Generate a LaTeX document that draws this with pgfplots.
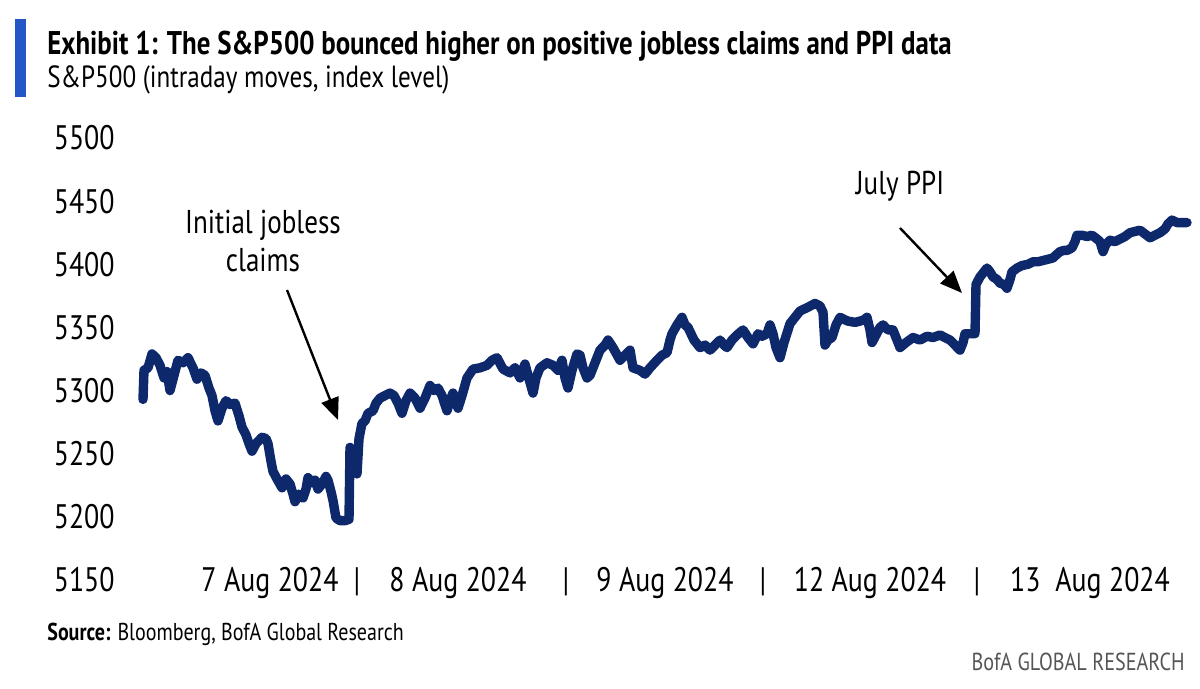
\documentclass[border=0pt]{standalone}
\usepackage{fontspec}
\setmainfont{PT Sans}[FakeStretch=0.82]
\usepackage{pgfplots}
\pgfplotsset{compat=1.18}
\usetikzlibrary{arrows.meta}
\definecolor{navy}{RGB}{14,40,108}
\definecolor{bofablue}{RGB}{36,87,197}
\definecolor{grayt}{RGB}{85,85,85}
\begin{document}
\begin{tikzpicture}[x=0.5pt,y=0.5pt]
\useasboundingbox (0,0) rectangle (1200,689);
\fill[bofablue] (15,670) rectangle (26,592);
\node[anchor=base west,inner sep=0pt,font=\bfseries\fontsize{16.4}{18}\selectfont] at (47,634) {Exhibit 1: The S\&P500 bounced higher on positive jobless claims and PPI data};
\node[anchor=base west,inner sep=0pt,font=\fontsize{15.3}{17}\selectfont] at (47,601) {S\&P500 (intraday moves, index level)};
\begin{axis}[
  at={(71.5pt,54.5pt)}, anchor=south west,
  width=522pt, height=221pt, scale only axis,
  xmin=143, xmax=1187, ymin=5150, ymax=5500,
  enlargelimits=false, clip=false,
  axis line style={draw=none}, tick style={draw=none},
  ytick={5150,5200,5250,5300,5350,5400,5450,5500},
  yticklabels={5150,5200,5250,5300,5350,5400,5450,5500},
  xtick={270,357,458,566,665,763,870,977,1090},
  xticklabels={7 Aug 2024,|,8 Aug 2024,|,9 Aug 2024,|,12 Aug 2024,|,13\ \ Aug 2024},
  ticklabel style={font=\fontsize{17}{20}\selectfont, inner sep=0pt},
  yticklabel style={anchor=base east, xshift=-14pt, yshift=-6pt},
  xticklabel style={anchor=base, yshift=-6pt},
]
\addplot[navy, line width=4.7pt, line join=round, line cap=round] coordinates {
(143,5293)(144,5316)(148,5318)(152,5329)(156,5326)(160,5320)(164,5310)(167,5315)(170,5300)(174,5312)
(178,5324)(183,5322)(188,5326)(193,5318)(197,5309)(201,5314)(205,5312)(209,5302)(212,5296)(215,5284)
(218,5276)(222,5286)(226,5292)(230,5289)(235,5290)(239,5280)(242,5271)(246,5265)(249,5258)(252,5252)
(256,5258)(262,5263)(266,5262)(268,5258)(271,5244)(273,5236)(277,5230)(282,5223)(286,5230)(290,5226)
(293,5218)(295,5212)(299,5218)(303,5215)(306,5222)(308,5231)(312,5227)(315,5229)(318,5222)(322,5226)
(326,5232)(328,5229)(331,5220)(333,5213)(336,5199)(340,5197)(345,5197)(349,5198)(350,5255)(353,5250)
(356,5245)(357,5234)(359,5262)(362,5274)(365,5276)(368,5282)(373,5284)(376,5290)(380,5294)(385,5296)
(390,5298)(394,5296)(398,5290)(402,5282)(406,5292)(410,5298)(415,5294)(420,5286)(425,5294)(430,5304)
(434,5300)(438,5302)(442,5296)(447,5284)(450,5292)(453,5298)(458,5286)(462,5296)(467,5310)(473,5317)
(480,5318)(487,5320)(492,5324)(497,5326)(503,5317)(510,5314)(515,5318)(520,5310)(525,5321)(528,5312)
(533,5298)(536,5310)(540,5318)(547,5322)(553,5320)(558,5316)(562,5324)(565,5310)(568,5302)(572,5316)
(577,5329)(580,5328)(583,5318)(587,5310)(590,5312)(595,5322)(600,5332)(605,5336)(608,5340)(613,5334)
(620,5324)(625,5328)(630,5332)(633,5318)(640,5316)(645,5313)(650,5318)(657,5324)(662,5328)(667,5330)
(670,5340)(672,5345)(677,5352)(682,5358)(685,5352)(688,5350)(694,5340)(700,5334)(705,5336)(710,5332)
(715,5336)(720,5340)(724,5336)(727,5334)(732,5340)(737,5344)(743,5348)(748,5342)(753,5337)(758,5345)
(762,5343)(767,5345)(770,5352)(773,5345)(776,5334)(780,5326)(784,5338)(788,5348)(790,5353)(795,5358)
(800,5363)(808,5366)(815,5369)(820,5367)(823,5362)(825,5336)(828,5340)(832,5342)(836,5352)(840,5358)
(845,5356)(848,5355)(855,5354)(860,5355)(864,5356)(867,5358)(870,5348)(872,5338)(876,5344)(880,5350)
(883,5352)(888,5348)(893,5348)(897,5340)(900,5334)(906,5338)(913,5342)(920,5340)(927,5343)(933,5342)
(940,5344)(945,5342)(950,5340)(955,5336)(960,5332)(963,5338)(965,5345)(970,5345)(975,5345)(976,5384)
(980,5390)(984,5394)(987,5397)(990,5394)(993,5390)(997,5388)(1000,5385)(1004,5384)(1007,5381)(1010,5388)
(1012,5394)(1017,5397)(1022,5399)(1028,5400)(1033,5402)(1038,5402)(1043,5403)(1048,5404)(1053,5405)(1057,5408)
(1060,5410)(1064,5411)(1067,5411)(1072,5413)(1075,5418)(1077,5423)(1082,5423)(1087,5422)(1092,5423)(1097,5420)
(1100,5418)(1103,5410)(1106,5416)(1110,5419)(1115,5418)(1120,5420)(1125,5422)(1130,5425)(1135,5426)(1140,5427)
(1145,5424)(1150,5421)(1155,5423)(1160,5425)(1165,5428)(1168,5432)(1172,5435)(1177,5433)(1182,5433)(1187,5433)
};
\end{axis}
\node[anchor=base,inner sep=0pt,font=\fontsize{16.5}{20}\selectfont] at (263,455) {Initial jobless};
\node[anchor=base,inner sep=0pt,font=\fontsize{16.5}{20}\selectfont] at (263,417) {claims};
\node[anchor=base,inner sep=0pt,font=\fontsize{16.5}{20}\selectfont] at (900,494) {July PPI};
\draw[line width=1.2pt,-{Triangle[length=11pt,width=9pt]}] (287,399) -- (338,269);
\draw[line width=1.2pt,-{Triangle[length=11pt,width=9pt]}] (900,461) -- (962,396);
\node[anchor=base west,inner sep=0pt,font=\fontsize{12.2}{14}\selectfont] at (47,48) {\textbf{Source:} Bloomberg, BofA Global Research};
\node[anchor=base east,inner sep=0pt,font=\fontsize{12.3}{14}\selectfont,text=grayt] at (1185,18) {BofA GLOBAL RESEARCH};
\end{tikzpicture}
\end{document}
